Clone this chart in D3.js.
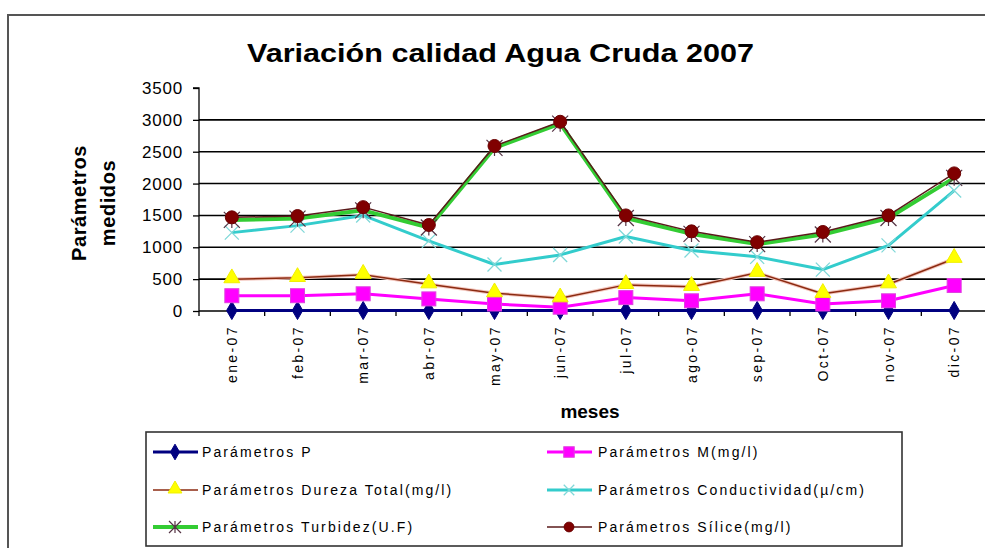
<!DOCTYPE html>
<html>
<head>
<meta charset="utf-8">
<script src="https://cdn.jsdelivr.net/npm/d3@7"></script>
<style>
  html, body { margin: 0; padding: 0; background: #fff; overflow: hidden; }
  svg { display: block; }
</style>
</head>
<body>
<svg id="chart" width="985" height="548"></svg>
<script>
const months = ["ene-07","feb-07","mar-07","abr-07","may-07","jun-07","jul-07","ago-07","sep-07","Oct-07","nov-07","dic-07"];
const yTicks = [0, 500, 1000, 1500, 2000, 2500, 3000, 3500];

const parametrosP      = [8, 8, 8, 8, 8, 8, 8, 8, 8, 8, 8, 8];
const parametrosM      = [240, 240, 270, 190, 110, 60, 210, 160, 270, 110, 160, 400];
const durezaTotal      = [500, 520, 570, 420, 280, 200, 410, 380, 600, 270, 420, 820];
const conductividad    = [1230, 1340, 1500, 1100, 730, 880, 1170, 950, 850, 650, 1030, 1890];
const turbidez         = [1430, 1450, 1580, 1310, 2560, 2940, 1460, 1210, 1050, 1200, 1460, 2090];
const silice           = [1470, 1490, 1630, 1350, 2590, 2970, 1500, 1250, 1080, 1240, 1500, 2160];

const seriesNames = [
  "Parámetros P",
  "Parámetros M(mg/l)",
  "Parámetros Dureza Total(mg/l)",
  "Parámetros Conductividad(µ/cm)",
  "Parámetros Turbidez(U.F)",
  "Parámetros Sílice(mg/l)"
];

const series = [
  { name: seriesNames[0], values: parametrosP,   line: "#000080", width: 3,   marker: "diamond",  mfill: "#000080" },
  { name: seriesNames[1], values: parametrosM,   line: "#FF00FF", width: 3,   marker: "square",   mfill: "#FF00FF" },
  { name: seriesNames[2], values: durezaTotal,   line: "#8B2A10", width: 1.5, marker: "triangle", mfill: "#FFFF00" },
  { name: seriesNames[3], values: conductividad, line: "#33CCCC", width: 3,   marker: "x",        mfill: "#33CCCC" },
  { name: seriesNames[4], values: turbidez,      line: "#33CC33", width: 4,   marker: "asterisk", mfill: "#553344" },
  { name: seriesNames[5], values: silice,        line: "#5A1A1A", width: 1.5, marker: "circle",   mfill: "#800000" }
];

const svg = d3.select("#chart");

// outer chart border
svg.append("rect")
  .attr("x", 8).attr("y", 15).attr("width", 1010).attr("height", 600)
  .attr("fill", "#fff").attr("stroke", "#555").attr("stroke-width", 2);

// title
svg.append("text")
  .attr("x", 247).attr("y", 62)
  .attr("textLength", 507).attr("lengthAdjust", "spacingAndGlyphs")
  .attr("font-family", "'Liberation Sans Narrow', 'Liberation Sans', Arial, sans-serif")
  .attr("font-weight", "bold").attr("font-size", 26).attr("fill", "#000")
  .text("Variación calidad Agua Cruda 2007");

const plotLeft = 199, plotRight = 987, plotTop = 88, plotBottom = 311;

const x = d3.scaleBand().domain(months).range([plotLeft, plotRight]);
const y = d3.scaleLinear().domain([0, 3500]).range([plotBottom, plotTop]);

// gridlines
svg.append("g").selectAll("line")
  .data(yTicks.filter(t => t > 0 && t < 3500))
  .join("line")
  .attr("x1", plotLeft).attr("x2", plotRight)
  .attr("y1", d => y(d)).attr("y2", d => y(d))
  .attr("stroke", "#000").attr("stroke-width", 1.6);

// y axis
const yAxis = svg.append("g")
  .attr("transform", `translate(${plotLeft},0)`)
  .call(d3.axisLeft(y).tickValues(yTicks).tickSize(6).tickPadding(10).tickFormat(d3.format("d")));
yAxis.select(".domain").attr("stroke", "#000").attr("stroke-width", 1.3).attr("d", `M-6,${plotTop}H0V${plotBottom + 5}`);
yAxis.selectAll(".tick line").attr("stroke", "#000").attr("stroke-width", 1.3);
yAxis.selectAll(".tick text")
  .attr("font-family", "'Liberation Sans', Arial, sans-serif")
  .attr("font-size", 17).attr("letter-spacing", "0.8px").attr("fill", "#000");

// x axis line and ticks
const xAxis = svg.append("g")
  .attr("transform", `translate(0,${plotBottom})`)
  .call(d3.axisBottom(x).tickSize(0).tickPadding(0));
xAxis.select(".domain").attr("stroke", "#000").attr("stroke-width", 1.6).attr("d", `M${plotLeft},0H${plotRight}`);
xAxis.selectAll(".tick text").remove();
svg.append("g").selectAll("line")
  .data(months)
  .join("line")
  .attr("x1", d => x(d) + x.bandwidth()).attr("x2", d => x(d) + x.bandwidth())
  .attr("y1", plotBottom).attr("y2", plotBottom + 5)
  .attr("stroke", "#000").attr("stroke-width", 1.3);

// rotated month labels
svg.append("g").selectAll("text")
  .data(months)
  .join("text")
  .attr("transform", d => `translate(${x(d) + x.bandwidth() / 2 + 5},${plotBottom + 14}) rotate(-90)`)
  .attr("text-anchor", "end")
  .attr("font-family", "'Liberation Sans', Arial, sans-serif")
  .attr("font-size", 14).attr("letter-spacing", "2.4px").attr("fill", "#000")
  .text(d => d);

// axis titles
const yTitle = svg.append("text")
  .attr("transform", "translate(0,203) rotate(-90)")
  .attr("text-anchor", "middle")
  .attr("font-family", "'Liberation Sans', Arial, sans-serif")
  .attr("font-weight", "bold").attr("font-size", 20).attr("letter-spacing", "0.6px").attr("fill", "#000");
yTitle.append("tspan").attr("x", 0).attr("y", 86).text("Parámetros");
yTitle.append("tspan").attr("x", 0).attr("y", 115).text("medidos");

svg.append("text")
  .attr("x", 590).attr("y", 418).attr("text-anchor", "middle")
  .attr("font-family", "'Liberation Sans', Arial, sans-serif")
  .attr("font-weight", "bold").attr("font-size", 19).attr("fill", "#000")
  .text("meses");

function drawMarker(g, s, cx, cy, scale) {
  scale = scale || 1;
  const m = s.marker;
  if (m === "diamond") {
    g.append("path").attr("d", d3.symbol(d3.symbolDiamond, 95 * scale)())
      .attr("transform", `translate(${cx},${cy})`).attr("fill", s.mfill).attr("stroke", s.mfill);
  } else if (m === "square") {
    const h = 7 * scale;
    g.append("rect").attr("x", cx - h).attr("y", cy - h).attr("width", 2 * h).attr("height", 2 * h)
      .attr("fill", s.mfill).attr("stroke", "#E040E0").attr("stroke-width", 1);
  } else if (m === "triangle") {
    g.append("path").attr("d", d3.symbol(d3.symbolTriangle, 110 * scale)())
      .attr("transform", `translate(${cx},${cy - 1})`).attr("fill", s.mfill).attr("stroke", "#F0F000");
  } else if (m === "x") {
    const h = 7 * scale;
    g.append("path").attr("d", `M${cx - h},${cy - h}L${cx + h},${cy + h}M${cx - h},${cy + h}L${cx + h},${cy - h}`)
      .attr("stroke", "#7FD8D8").attr("stroke-width", 1.3).attr("fill", "none");
  } else if (m === "asterisk") {
    const h = 8 * scale;
    g.append("path").attr("d", `M${cx - h},${cy - h}L${cx + h},${cy + h}M${cx - h},${cy + h}L${cx + h},${cy - h}M${cx},${cy - h}L${cx},${cy + h}`)
      .attr("stroke", s.mfill).attr("stroke-width", 1.2).attr("fill", "none");
  } else if (m === "circle") {
    g.append("circle").attr("cx", cx).attr("cy", cy).attr("r", 6.5 * scale)
      .attr("fill", s.mfill).attr("stroke", "#6A0000").attr("stroke-width", 1);
  }
}

const lineGen = d3.line()
  .x((d, i) => x(months[i]) + x.bandwidth() / 2)
  .y(d => y(d));

series.forEach(s => {
  const g = svg.append("g");
  if (s.marker === "triangle") {
    g.append("path").attr("d", lineGen(s.values)).attr("fill", "none")
      .attr("stroke", "#F4C8C0").attr("stroke-width", 3.5);
  }
  g.append("path").attr("d", lineGen(s.values)).attr("fill", "none")
    .attr("stroke", s.line).attr("stroke-width", s.width).attr("stroke-linejoin", "round");
  s.values.forEach((v, i) => drawMarker(g, s, x(months[i]) + x.bandwidth() / 2, y(v)));
});

// legend
const legend = svg.append("g");
legend.append("rect")
  .attr("x", 146).attr("y", 432).attr("width", 756).attr("height", 114)
  .attr("fill", "#fff").attr("stroke", "#333").attr("stroke-width", 1.6);

const legendPos = [
  { lx: 153, tx: 202, y: 452 },
  { lx: 547, tx: 598, y: 452 },
  { lx: 153, tx: 202, y: 490 },
  { lx: 547, tx: 598, y: 490 },
  { lx: 153, tx: 202, y: 527 },
  { lx: 547, tx: 598, y: 527 }
];

series.forEach((s, i) => {
  const p = legendPos[i];
  const g = legend.append("g");
  g.append("line").attr("x1", p.lx).attr("x2", p.lx + 45).attr("y1", p.y).attr("y2", p.y)
    .attr("stroke", s.line).attr("stroke-width", s.width);
  drawMarker(g, s, p.lx + 22, p.y, 0.75);
  g.append("text").attr("x", p.tx).attr("y", p.y + 5)
    .attr("font-family", "'Liberation Sans', Arial, sans-serif")
    .attr("font-size", 14).attr("letter-spacing", "2.1px").attr("fill", "#000")
    .text(s.name);
});
</script>
</body>
</html>
